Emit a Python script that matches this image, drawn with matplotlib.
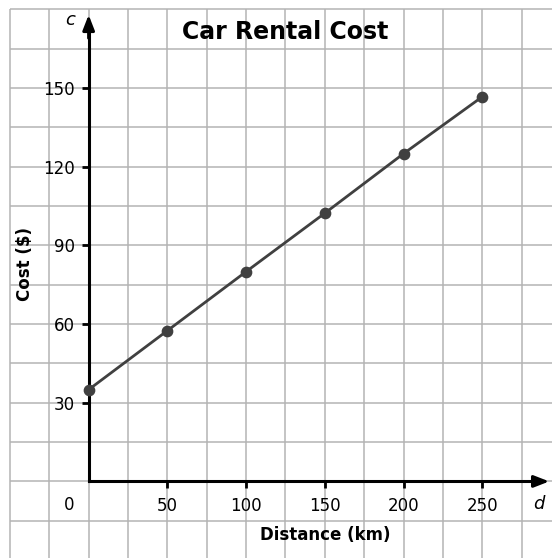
import matplotlib.pyplot as plt
import numpy as np

# Données
distance_km = [0, 50, 100, 150, 200, 250]
cost_dollars = [35, 57.5, 80, 102.3, 125, 146.7]
x_ticks = [50, 100, 150, 200, 250]
y_ticks = [30, 60, 90, 120, 150]

fig = plt.figure(figsize=(5.52, 5.58), dpi=100)
ax = fig.add_axes([0, 0, 1, 1])
ax.set_facecolor("none")
ax.set_xlim(-56.3, 294.3)
ax.set_ylim(-29.2, 183.6)

# Quadrillage (borné à gauche et en haut)
grid_col = "#b4b4b4"
ax.vlines(np.arange(-50, 300, 25), -40, 180, color=grid_col, lw=1.1, zorder=0)
ax.hlines(np.arange(-15, 181, 15), -50, 300, color=grid_col, lw=1.1, zorder=0)

# Axes placés à l'origine
for s in ["top", "right"]:
    ax.spines[s].set_visible(False)
ax.spines["left"].set_position(("data", 0))
ax.spines["bottom"].set_position(("data", 0))
ax.spines["left"].set_bounds(0, 172)
ax.spines["bottom"].set_bounds(0, 288)
ax.spines["left"].set_linewidth(2.2)
ax.spines["bottom"].set_linewidth(2.2)

ax.set_xticks(x_ticks)
ax.set_yticks(y_ticks)
ax.tick_params(axis="x", direction="out", length=5, width=2, pad=6.5, labelsize=12)
ax.tick_params(axis="y", direction="out", length=5, width=2, pad=5, labelsize=12)

# Flèches des axes
arrow = dict(arrowstyle="-|>,head_length=0.9,head_width=0.35", color="black", lw=2.2)
ax.annotate("", xy=(0, 179), xytext=(0, 168), arrowprops=arrow, annotation_clip=False)
ax.annotate("", xy=(294.3, 0), xytext=(284, 0), arrowprops=arrow, annotation_clip=False)

ax.text(-12.5, -9, "0", ha="center", va="center", fontsize=12)
ax.text(-12, 176, "c", ha="center", va="center", fontsize=13, style="italic")
ax.text(286, -8.5, "d", ha="center", va="center", fontsize=13, style="italic")

# Droite et points
ax.plot(distance_km, cost_dollars, color="#404040", lw=2, zorder=3)
ax.scatter(distance_km, cost_dollars, s=55, color="#404040", zorder=4, clip_on=False)

ax.text(125, 171.5, "Car Rental Cost", ha="center", va="center", fontsize=17, fontweight="bold")
ax.text(150, -20.5, "Distance (km)", ha="center", va="center", fontsize=12, fontweight="bold")
ax.text(-40.5, 83, "Cost ($)", ha="center", va="center", fontsize=12, fontweight="bold", rotation=90)

fig.savefig("out.png", dpi=100)
